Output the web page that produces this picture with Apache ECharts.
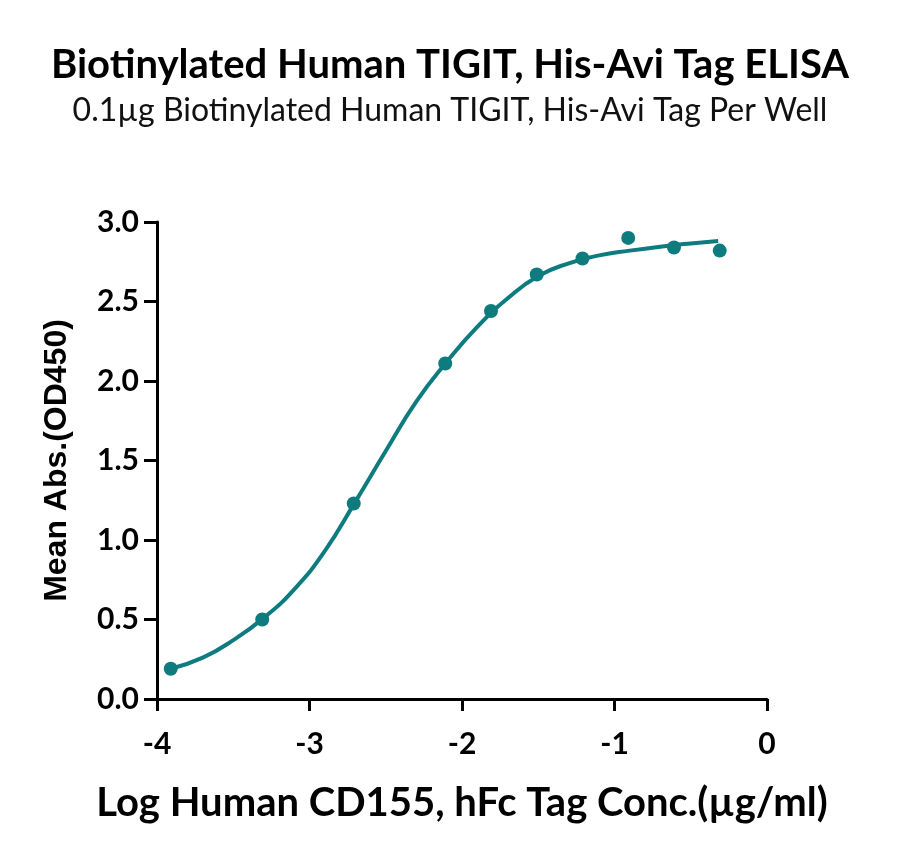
<!DOCTYPE html>
<html>
<head>
<meta charset="utf-8">
<script src="https://cdn.jsdelivr.net/npm/echarts@6/dist/echarts.min.js"></script>
<style>
  html, body { margin: 0; padding: 0; background: #fff; }
  #chart { width: 900px; height: 859px; }
</style>
</head>
<body>
<div id="chart"></div>
<script>
// measured points: log conc (µg/ml) and mean OD450
var logConc = [-3.91, -3.31, -2.71, -2.11, -1.81, -1.51, -1.21, -0.91, -0.61, -0.31];
var meanAbs = [0.19, 0.50, 1.23, 2.11, 2.44, 2.67, 2.77, 2.90, 2.84, 2.82];

// fitted curve
var curveX = [-3.91, -3.7, -3.5, -3.3, -3.1, -2.9, -2.7, -2.5, -2.3, -2.1, -1.9, -1.7, -1.5, -1.3, -1.1, -0.9, -0.7, -0.5, -0.32];
var curveY = [0.19, 0.26, 0.37, 0.51, 0.69, 0.93, 1.24, 1.56, 1.87, 2.12, 2.34, 2.52, 2.66, 2.74, 2.79, 2.82, 2.845, 2.865, 2.88];

var xTicks = [-4, -3, -2, -1, 0];
var yTicks = [0, 0.5, 1.0, 1.5, 2.0, 2.5, 3.0];

var teal = '#0e7b7f';
var titleFont = '"Source Sans Pro", Lato, "Noto Sans", sans-serif';

var points = logConc.map(function (x, i) { return [x, meanAbs[i]]; });
var curve = curveX.map(function (x, i) { return [x, curveY[i]]; });

var chart = echarts.init(document.getElementById('chart'));
chart.setOption({
  animation: false,
  title: [
    {
      text: 'Biotinylated Human TIGIT, His-Avi Tag ELISA',
      left: 'center',
      top: 40,
      textStyle: { fontFamily: titleFont, fontWeight: 'bold', fontSize: 40, color: '#000' }
    },
    {
      text: '0.1µg Biotinylated Human TIGIT, His-Avi Tag Per Well',
      left: 'center',
      top: 90,
      textStyle: { fontFamily: titleFont, fontWeight: 'normal', fontSize: 32, color: '#111' }
    }
  ],
  grid: { left: 157, right: 133, top: 222, bottom: 160 },
  xAxis: {
    type: 'value',
    min: xTicks[0],
    max: xTicks[xTicks.length - 1],
    interval: 1,
    name: 'Log Human CD155, hFc Tag Conc.(µg/ml)',
    nameLocation: 'middle',
    nameGap: 84,
    nameTextStyle: { fontFamily: titleFont, fontWeight: 'bold', fontSize: 40, color: '#000' },
    axisLine: { onZero: false, lineStyle: { color: '#000', width: 3 } },
    axisTick: { length: 12, lineStyle: { color: '#000', width: 3 } },
    axisLabel: { margin: 30, fontFamily: titleFont, fontWeight: 'bold', fontSize: 30, color: '#000' },
    splitLine: { show: false }
  },
  yAxis: {
    type: 'value',
    min: yTicks[0],
    max: yTicks[yTicks.length - 1],
    interval: 0.5,
    name: 'Mean Abs.(OD450)',
    nameLocation: 'middle',
    nameGap: 84,
    nameTextStyle: { fontFamily: '"Liberation Sans", Arial, sans-serif', fontWeight: 'bold', fontSize: 32, color: '#000' },
    axisLine: { onZero: false, lineStyle: { color: '#000', width: 3 } },
    axisTick: { length: 13, lineStyle: { color: '#000', width: 3 } },
    axisLabel: {
      margin: 18,
      fontFamily: titleFont, fontWeight: 'bold', fontSize: 30, color: '#000',
      formatter: function (v) { return v.toFixed(1); }
    },
    splitLine: { show: false }
  },
  series: [
    {
      type: 'line',
      data: curve,
      smooth: 0.5,
      showSymbol: false,
      lineStyle: { color: teal, width: 4 },
      z: 2
    },
    {
      type: 'scatter',
      data: points,
      symbol: 'circle',
      symbolSize: 14,
      itemStyle: { color: teal, opacity: 1 },
      z: 3
    }
  ]
});
</script>
</body>
</html>
